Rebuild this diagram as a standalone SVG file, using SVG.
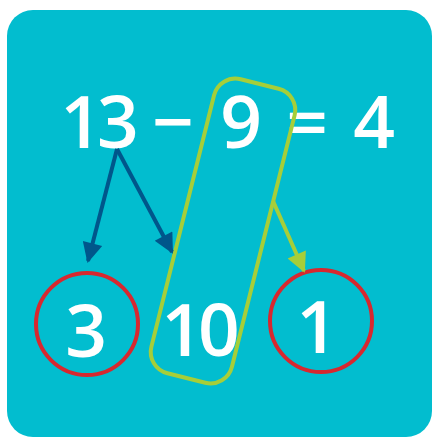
<svg xmlns="http://www.w3.org/2000/svg" width="432" height="438" viewBox="0 0 432 438">
  <style>
    .num { font-family: "Open Sans", "Noto Sans", sans-serif; font-weight: 600; fill: #ffffff; text-anchor: middle; }
    .big { font-size: 73px; }
    .pair { letter-spacing: -5px; }
    .ring { fill: none; stroke: #D7282F; stroke-width: 4; }
    .blue { stroke: #00568B; stroke-width: 4; fill: none; }
    .green { stroke: #A6CE39; stroke-width: 4; fill: none; }
  </style>
  <defs>
    <marker id="ahBlue" viewBox="0 0 10 10" refX="9" refY="5" markerWidth="6" markerHeight="5" markerUnits="strokeWidth" orient="auto">
      <path d="M0,0 L10,5 L0,10 z" fill="#00568B"/>
    </marker>
    <marker id="ahGreen" viewBox="0 0 10 10" refX="9" refY="5" markerWidth="6" markerHeight="5" markerUnits="strokeWidth" orient="auto">
      <path d="M0,0 L10,5 L0,10 z" fill="#A6CE39"/>
    </marker>
  </defs>
  <rect id="panel" x="7" y="10" width="425" height="427" rx="26" fill="#02BDCF"/>
  <g id="equation">
    <text class="num big pair" x="97" y="148">13</text>
    <text class="num big" x="173" y="148">−</text>
    <text class="num big" x="241" y="148">9</text>
    <text class="num big" x="307" y="148">=</text>
    <text class="num big" x="374" y="148">4</text>
  </g>
  <g id="node-3">
    <circle class="ring" cx="87" cy="324" r="51"/>
    <text class="num big" x="86" y="357">3</text>
  </g>
  <g id="node-10">
    <text class="num big pair" x="198" y="356">10</text>
  </g>
  <g id="node-1">
    <circle class="ring" cx="321" cy="321" r="51"/>
    <text class="num big" x="317" y="353">1</text>
  </g>
  <g id="highlight-9">
    <rect class="green" x="181.5" y="79.5" width="83" height="303" rx="22" transform="rotate(14 223 231)"/>
  </g>
  <g id="connectors">
    <path class="blue" d="M117,149 L88,261" marker-end="url(#ahBlue)"/>
    <path class="blue" d="M117,149 L172,252" marker-end="url(#ahBlue)"/>
    <path class="green" d="M273,201 L304,271" marker-end="url(#ahGreen)"/>
  </g>
</svg>
